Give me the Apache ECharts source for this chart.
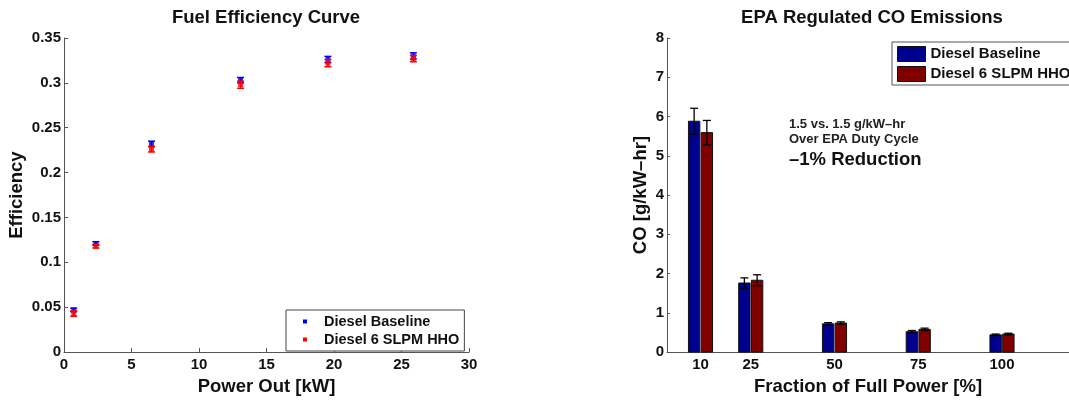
<!DOCTYPE html>
<html>
<head>
<meta charset="utf-8">
<script src="https://cdn.jsdelivr.net/npm/echarts@6/dist/echarts.min.js"></script>
<style>
  html, body { margin: 0; padding: 0; background: #fff; }
  #chart { width: 1069px; height: 401px; }
</style>
</head>
<body>
<div id="chart"></div>
<script>
// Fuel efficiency vs. power output
const powerOut = [0.72, 2.36, 6.48, 13.08, 19.55, 25.88];
const effBaseline = [0.047, 0.121, 0.232, 0.303, 0.326, 0.330];
const effBaselineErr = [0.002, 0.002, 0.003, 0.003, 0.0035, 0.0035];
const effHHO = [0.043, 0.118, 0.226, 0.298, 0.322, 0.327];
const effHHOErr = [0.003, 0.002, 0.003, 0.004, 0.004, 0.0035];

// CO emissions at each load point
const loadPct = [10, 25, 50, 75, 100];
const coBaseline = [5.88, 1.76, 0.72, 0.52, 0.44];
const coBaselineErr = [0.33, 0.13, 0.03, 0.03, 0.02];
const coHHO = [5.59, 1.83, 0.74, 0.58, 0.46];
const coHHOErr = [0.31, 0.14, 0.03, 0.03, 0.02];

const seriesNames = ['Diesel Baseline', 'Diesel 6 SLPM HHO'];
const noteLines = ['1.5 vs. 1.5 g/kW\u2013hr', 'Over EPA Duty Cycle', '\u20131% Reduction'];

const FONT = '"Liberation Sans", Arial, Helvetica, sans-serif';
const AXIS_COLOR = '#555';
const TEXT_COLOR = '#111';

function zip(xs, ys, es) {
  return xs.map((x, i) => [x, ys[i], es[i]]);
}

// vertical error bar with caps, centred on the data point
function errorBarItem(color, capPx, lineWidth) {
  return function (params, api) {
    const x = api.value(0), y = api.value(1), e = api.value(2);
    const top = api.coord([x, y + e]);
    const bot = api.coord([x, y - e]);
    const style = { stroke: color, lineWidth: lineWidth };
    return {
      type: 'group',
      children: [
        { type: 'line', shape: { x1: top[0], y1: top[1], x2: bot[0], y2: bot[1] }, style },
        { type: 'line', shape: { x1: top[0] - capPx, y1: top[1], x2: top[0] + capPx, y2: top[1] }, style },
        { type: 'line', shape: { x1: bot[0] - capPx, y1: bot[1], x2: bot[0] + capPx, y2: bot[1] }, style }
      ]
    };
  };
}

// grouped bar on a numeric x axis, plus its error bar
function barItem(offset, width, fill) {
  return function (params, api) {
    const x = api.value(0) + offset, y = api.value(1), e = api.value(2);
    const tl = api.coord([x - width / 2, y]);
    const br = api.coord([x + width / 2, 0]);
    const et = api.coord([x, y + e]);
    const eb = api.coord([x, y - e]);
    const cx = et[0];
    const es = { stroke: '#000', lineWidth: 1.3 };
    const cap = 4;
    return {
      type: 'group',
      children: [
        { type: 'rect', shape: { x: tl[0], y: tl[1], width: br[0] - tl[0], height: br[1] - tl[1] },
          style: { fill: fill, stroke: '#111', lineWidth: 1 } },
        { type: 'line', shape: { x1: cx, y1: et[1], x2: cx, y2: eb[1] }, style: es },
        { type: 'line', shape: { x1: cx - cap, y1: et[1], x2: cx + cap, y2: et[1] }, style: es },
        { type: 'line', shape: { x1: cx - cap, y1: eb[1], x2: cx + cap, y2: eb[1] }, style: es }
      ]
    };
  };
}

const labelStyle = { color: TEXT_COLOR, fontFamily: FONT, fontWeight: 'bold', fontSize: 15 };
const nameStyle = { color: TEXT_COLOR, fontFamily: FONT, fontWeight: 'bold', fontSize: 18.5 };

function textEl(x, y, text, size, fill) {
  return {
    type: 'text', x: x, y: y,
    style: { text: text, fill: fill, font: 'bold ' + size + 'px ' + FONT, align: 'left', verticalAlign: 'middle' }
  };
}

const chart = echarts.init(document.getElementById('chart'), null, { renderer: 'canvas' });

chart.setOption({
  animation: false,
  backgroundColor: '#fff',
  textStyle: { fontFamily: FONT },
  grid: [
    { left: 64, top: 38, right: 600, bottom: 46 },
    { left: 667, top: 38, right: -6, bottom: 42 }
  ],
  xAxis: [
    {
      gridIndex: 0, type: 'value', min: 0, max: 30, interval: 5,
      name: 'Power Out [kW]', nameLocation: 'middle', nameGap: 18, nameTextStyle: nameStyle,
      axisLine: { lineStyle: { color: AXIS_COLOR, width: 1 } },
      axisTick: { inside: true, length: 4, lineStyle: { color: AXIS_COLOR } },
      axisLabel: Object.assign({ margin: 5 }, labelStyle),
      splitLine: { show: false }
    },
    {
      gridIndex: 1, type: 'value', min: 0, max: 120, interval: 5,
      name: 'Fraction of Full Power [%]', nameLocation: 'middle', nameGap: 20, nameTextStyle: nameStyle,
      axisLine: { lineStyle: { color: AXIS_COLOR, width: 1 } },
      axisTick: { show: false },
      axisLabel: Object.assign({ margin: 5, customValues: loadPct }, labelStyle),
      splitLine: { show: false }
    }
  ],
  yAxis: [
    {
      gridIndex: 0, type: 'value', min: 0, max: 0.35, interval: 0.05,
      name: 'Efficiency', nameLocation: 'middle', nameGap: 38, nameTextStyle: nameStyle,
      axisLine: { show: true, lineStyle: { color: AXIS_COLOR, width: 1 } },
      axisTick: { show: true, inside: true, length: 4, lineStyle: { color: AXIS_COLOR } },
      axisLabel: Object.assign({ margin: 3 }, labelStyle),
      splitLine: { show: false }
    },
    {
      gridIndex: 1, type: 'value', min: 0, max: 8, interval: 1,
      name: 'CO [g/kW\u2013hr]', nameLocation: 'middle', nameGap: 17, nameTextStyle: nameStyle,
      axisLine: { show: true, lineStyle: { color: AXIS_COLOR, width: 1 } },
      axisTick: { show: true, inside: true, length: 3, lineStyle: { color: AXIS_COLOR } },
      axisLabel: Object.assign({ margin: 3 }, labelStyle),
      splitLine: { show: false }
    }
  ],
  legend: [
    {
      orient: 'vertical', left: 286, top: 310,
      padding: [4, 5, 4, 17], itemGap: 3, itemWidth: 4, itemHeight: 4,
      borderColor: '#444', borderWidth: 1, backgroundColor: '#fff',
      selectedMode: false,
      textStyle: Object.assign({}, labelStyle, { fontSize: 14.5, padding: [0, 0, 0, 12] }),
      data: [
        { name: seriesNames[0], icon: 'rect', itemStyle: { color: '#0000ff', borderWidth: 0 } },
        { name: seriesNames[1], icon: 'rect', itemStyle: { color: '#ff0000', borderWidth: 0 } }
      ]
    },
    {
      orient: 'vertical', left: 892, top: 42,
      padding: [4, 20, 3, 5], itemGap: 4, itemWidth: 28, itemHeight: 15,
      borderColor: '#555', borderWidth: 1, backgroundColor: '#fff',
      selectedMode: false,
      textStyle: labelStyle,
      data: [
        { name: seriesNames[0], icon: 'rect', itemStyle: { color: '#00008f', borderColor: '#111', borderWidth: 1 } },
        { name: seriesNames[1], icon: 'rect', itemStyle: { color: '#800000', borderColor: '#111', borderWidth: 1 } }
      ]
    }
  ],
  graphic: [
    { type: 'text', x: 266, y: 18, style: { text: 'Fuel Efficiency Curve', fill: TEXT_COLOR, font: 'bold 18.5px ' + FONT, align: 'center', verticalAlign: 'middle' } },
    { type: 'text', x: 872, y: 18, style: { text: 'EPA Regulated CO Emissions', fill: TEXT_COLOR, font: 'bold 18.5px ' + FONT, align: 'center', verticalAlign: 'middle' } },
    textEl(789, 124.5, noteLines[0], 13, '#222'),
    textEl(789, 139.5, noteLines[1], 13, '#222'),
    textEl(789, 159.5, noteLines[2], 18.5, '#111')
  ],
  series: [
    {
      name: seriesNames[0], type: 'custom', xAxisIndex: 0, yAxisIndex: 0,
      renderItem: errorBarItem('#0000ff', 3.5, 1.5),
      encode: { x: 0, y: 1 }, data: zip(powerOut, effBaseline, effBaselineErr), z: 3
    },
    {
      name: seriesNames[0], type: 'scatter', xAxisIndex: 0, yAxisIndex: 0,
      symbol: 'rect', symbolSize: 5, itemStyle: { color: '#0000ff' },
      data: powerOut.map((x, i) => [x, effBaseline[i]]), z: 3
    },
    {
      name: seriesNames[1], type: 'custom', xAxisIndex: 0, yAxisIndex: 0,
      renderItem: errorBarItem('#ff0000', 3.5, 1.5),
      encode: { x: 0, y: 1 }, data: zip(powerOut, effHHO, effHHOErr), z: 4
    },
    {
      name: seriesNames[1], type: 'scatter', xAxisIndex: 0, yAxisIndex: 0,
      symbol: 'rect', symbolSize: 5, itemStyle: { color: '#ff0000' },
      data: powerOut.map((x, i) => [x, effHHO[i]]), z: 4
    },
    {
      name: seriesNames[0], type: 'custom', xAxisIndex: 1, yAxisIndex: 1,
      renderItem: barItem(-1.9, 3.4, '#00008f'), itemStyle: { color: '#00008f' },
      encode: { x: 0, y: 1 }, data: zip(loadPct, coBaseline, coBaselineErr)
    },
    {
      name: seriesNames[1], type: 'custom', xAxisIndex: 1, yAxisIndex: 1,
      renderItem: barItem(1.9, 3.4, '#800000'), itemStyle: { color: '#800000' },
      encode: { x: 0, y: 1 }, data: zip(loadPct, coHHO, coHHOErr)
    }
  ]
});
</script>
</body>
</html>
